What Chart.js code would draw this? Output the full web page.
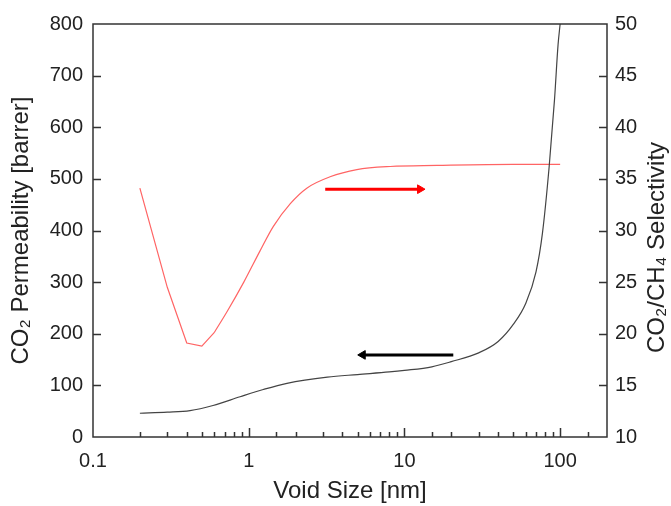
<!DOCTYPE html>
<html>
<head>
<meta charset="utf-8">
<script src="https://cdn.jsdelivr.net/npm/chart.js@4/dist/chart.umd.min.js"></script>
<style>
  body { margin: 0; background: #fff; }
  #wrap { width: 671px; height: 506px; }
</style>
</head>
<body>
<div id="wrap"><canvas id="myChart" width="671" height="506"></canvas></div>
<script>
const canvas = document.getElementById('myChart');
const ctx = canvas.getContext('2d');

// permeability curve (left axis)
const permSize = [0.2, 0.3, 0.42, 0.59, 0.88, 1.24, 1.76, 3.2, 5, 8, 10, 15, 20, 30, 40, 50, 60, 70, 77, 85, 92, 97, 100];
const permValue = [46, 48, 51, 61, 78, 92, 104, 116, 121, 126, 129, 136, 146, 163, 185, 218, 258, 320, 395, 523, 653, 760, 800];

// selectivity curve (right axis)
const selSize = [0.2, 0.3, 0.4, 0.5, 0.6, 0.73, 0.93, 1.18, 1.44, 1.85, 2.36, 3.33, 4.95, 8.1, 16.2, 50, 100];
const selValue = [34.1, 24.5, 19.1, 18.8, 20.1, 22.2, 25.0, 28.0, 30.4, 32.6, 34.1, 35.2, 35.9, 36.2, 36.3, 36.4, 36.4];
// the dip (first 5 points) is drawn straight, the rest smooth
const selKink = 4;

// arrows pointing to each curve's axis
const redArrowX = [3.1, 12.6];
const redArrowY = [34.0, 34.0];
const blackArrowX = [20.6, 5.4];
const blackArrowY = [159, 159];

const xTickLabels = [0.1, 1, 10, 100];

const family = 'Liberation Sans, Arial, sans-serif';
const tickFont = { family: family, size: 20 };
const titleFont = { family: family, size: 24 };
const textColor = '#222';

function pts(xs, ys) {
    return xs.map((x, i) => ({ x: x, y: ys[i] }));
}

const isDecade = v => Math.abs(Math.log10(v) - Math.round(Math.log10(v))) < 1e-6;

const frameAndTicks = {
    id: 'frameAndTicks',
    afterDraw(chart) {
        const a = chart.chartArea;
        const c = chart.ctx;
        c.save();
        c.strokeStyle = '#333';
        c.lineWidth = 1.5;
        c.strokeRect(a.left, a.top, a.right - a.left, a.bottom - a.top);
        c.beginPath();
        // x ticks, inward from bottom
        chart.scales.x.ticks.forEach(t => {
            if (t.value <= 0.1 || t.value >= 200) return;
            const px = Math.round(chart.scales.x.getPixelForValue(t.value)) + 0.5;
            const len = isDecade(t.value) ? 9 : 5;
            c.moveTo(px, a.bottom);
            c.lineTo(px, a.bottom - len);
        });
        // left ticks
        chart.scales.y.ticks.forEach(t => {
            if (t.value <= 0 || t.value >= 800) return;
            const py = Math.round(chart.scales.y.getPixelForValue(t.value)) + 0.5;
            const len = t.value % 100 === 0 ? 8 : 4;
            c.moveTo(a.left, py);
            c.lineTo(a.left + len, py);
        });
        // right ticks
        chart.scales.y2.ticks.forEach(t => {
            if (t.value <= 10 || t.value >= 50) return;
            const py = Math.round(chart.scales.y2.getPixelForValue(t.value)) + 0.5;
            const len = t.value % 5 === 0 ? 8 : 4;
            c.moveTo(a.right, py);
            c.lineTo(a.right - len, py);
        });
        c.stroke();

        // right axis title, reading bottom to top
        c.translate(657, (a.top + a.bottom) / 2 + 17);
        c.rotate(-Math.PI / 2);
        c.fillStyle = textColor;
        c.font = titleFont.size + 'px ' + family;
        c.textAlign = 'center';
        c.textBaseline = 'middle';
        c.fillText('CO₂/CH₄ Selectivity', 0, 0);
        c.restore();
    }
};

const redLine = {
    yAxisID: 'y2',
    borderColor: 'rgb(255, 100, 100)',
    borderWidth: 1.2,
    pointRadius: 0
};

const data = {
    datasets: [
        {
            label: 'CO2 Permeability',
            data: pts(permSize, permValue),
            yAxisID: 'y',
            borderColor: '#444',
            borderWidth: 1.2,
            pointRadius: 0,
            cubicInterpolationMode: 'monotone'
        },
        Object.assign({
            label: 'CO2/CH4 Selectivity',
            data: pts(selSize.slice(0, selKink + 1), selValue.slice(0, selKink + 1)),
            tension: 0
        }, redLine),
        Object.assign({
            label: 'CO2/CH4 Selectivity (cont.)',
            data: pts(selSize.slice(selKink), selValue.slice(selKink)),
            cubicInterpolationMode: 'monotone'
        }, redLine),
        {
            label: 'arrow right',
            data: pts(redArrowX, redArrowY),
            yAxisID: 'y2',
            borderColor: 'rgb(255, 0, 0)',
            backgroundColor: 'rgb(255, 0, 0)',
            borderWidth: 3,
            pointStyle: 'triangle',
            pointRadius: [0, 5],
            pointRotation: [0, 90],
            pointBorderWidth: 1
        },
        {
            label: 'arrow left',
            data: pts(blackArrowX, blackArrowY),
            yAxisID: 'y',
            borderColor: '#000',
            backgroundColor: '#000',
            borderWidth: 3,
            pointStyle: 'triangle',
            pointRadius: [0, 5],
            pointRotation: [0, -90],
            pointBorderWidth: 1
        }
    ]
};

var myChart = new Chart(ctx, {
    type: 'line',
    data: data,
    plugins: [frameAndTicks],
    options: {
        responsive: false,
        animation: false,
        layout: { padding: { top: 24, left: 0, right: 0, bottom: 0 } },
        plugins: {
            legend: { display: false },
            tooltip: { enabled: false }
        },
        scales: {
            x: {
                type: 'logarithmic',
                min: 0.1,
                max: 200,
                grid: { display: false, drawTicks: false },
                border: { display: false },
                ticks: {
                    autoSkip: false,
                    maxRotation: 0,
                    padding: 12,
                    color: textColor,
                    font: tickFont,
                    callback: v => xTickLabels.some(t => Math.abs(t - v) < 1e-9) ? String(v) : ''
                },
                title: {
                    display: true,
                    text: 'Void Size [nm]',
                    color: textColor,
                    font: titleFont,
                    padding: { top: 0, bottom: 0 }
                },
                afterFit: s => { s.height = 69; }
            },
            y: {
                position: 'left',
                min: 0,
                max: 800,
                grid: { display: false, drawTicks: false },
                border: { display: false },
                ticks: {
                    stepSize: 50,
                    padding: 10,
                    color: textColor,
                    font: tickFont,
                    callback: v => v % 100 === 0 ? v : ''
                },
                title: {
                    display: true,
                    text: 'CO₂ Permeability [barrer]',
                    color: textColor,
                    font: titleFont,
                    padding: { top: 7, bottom: 0 }
                },
                afterFit: s => { s.width = 93; }
            },
            y2: {
                position: 'right',
                min: 10,
                max: 50,
                grid: { display: false, drawTicks: false },
                border: { display: false },
                ticks: {
                    stepSize: 2.5,
                    padding: 8,
                    color: textColor,
                    font: tickFont,
                    callback: v => v % 5 === 0 ? v : ''
                },
                afterFit: s => { s.width = 64; }
            }
        }
    }
});
</script>
</body>
</html>
